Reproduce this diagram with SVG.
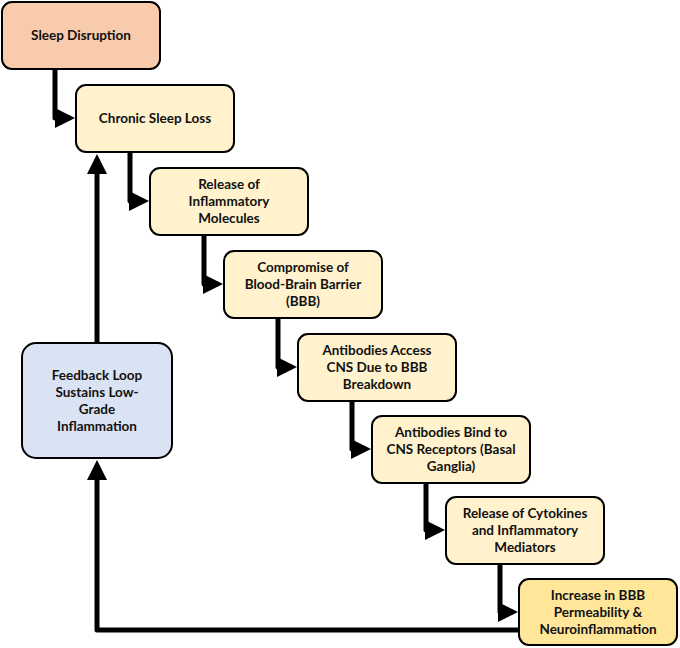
<svg xmlns="http://www.w3.org/2000/svg" width="680" height="648" viewBox="0 0 680 648">
<defs>
<marker id="ah" markerWidth="4" markerHeight="4" refX="3" refY="2" orient="auto" markerUnits="strokeWidth"><path d="M0,0 L4,2 L0,4 z" fill="#000"/></marker>
<style>
.b{stroke:#000;stroke-width:2}
.y{fill:#fff2cc}
text{font-family:Lato,"Open Sans",sans-serif;font-weight:bold;font-size:13.5px;fill:#111;text-anchor:middle}
.c{fill:none;stroke:#000;stroke-width:5;stroke-linejoin:round}
</style>
</defs>
<rect width="680" height="648" fill="#fff"/>
<g id="connectors">
<path class="c" d="M55,69 V118 H70" marker-end="url(#ah)"/>
<path class="c" d="M130,152 V201 H144" marker-end="url(#ah)"/>
<path class="c" d="M204,235 V284 H218" marker-end="url(#ah)"/>
<path class="c" d="M278,318 V367 H292" marker-end="url(#ah)"/>
<path class="c" d="M352,401 V449 H366" marker-end="url(#ah)"/>
<path class="c" d="M426,483 V530 H440" marker-end="url(#ah)"/>
<path class="c" d="M500,563 V612 H513" marker-end="url(#ah)"/>
<path class="c" d="M519,630 H97 V465" marker-end="url(#ah)"/>
<path class="c" d="M97,343 V159" marker-end="url(#ah)"/>
</g>
<g id="n1"><rect class="b" x="2" y="2" width="158" height="67" rx="10" fill="#f8cbad"/><text x="81" y="40">Sleep Disruption</text></g>
<g id="n2"><rect class="b y" x="76" y="85" width="158" height="67" rx="10"/><text x="155" y="123">Chronic Sleep Loss</text></g>
<g id="n3"><rect class="b y" x="150" y="168" width="158" height="67" rx="10"/><text x="229" y="189">Release of</text><text x="229" y="206">Inflammatory</text><text x="229" y="223">Molecules</text></g>
<g id="n4"><rect class="b y" x="224" y="251" width="158" height="67" rx="10"/><text x="303" y="272">Compromise of</text><text x="303" y="289">Blood-Brain Barrier</text><text x="303" y="306">(BBB)</text></g>
<g id="n5"><rect class="b y" x="298" y="334" width="158" height="67" rx="10"/><text x="377" y="355">Antibodies Access</text><text x="377" y="372">CNS Due to BBB</text><text x="377" y="389">Breakdown</text></g>
<g id="n6"><rect class="b y" x="372" y="416" width="158" height="67" rx="10"/><text x="451" y="437">Antibodies Bind to</text><text x="451" y="454">CNS Receptors (Basal</text><text x="451" y="471">Ganglia)</text></g>
<g id="n7"><rect class="b y" x="446" y="497" width="158" height="67" rx="10"/><text x="525" y="518">Release of Cytokines</text><text x="525" y="535">and Inflammatory</text><text x="525" y="552">Mediators</text></g>
<g id="n8"><rect class="b" x="519" y="579" width="158" height="66" rx="10" fill="#ffe699"/><text x="598" y="600">Increase in BBB</text><text x="598" y="617">Permeability &amp;</text><text x="598" y="634">Neuroinflammation</text></g>
<g id="fb"><rect class="b" x="22" y="343" width="150" height="115" rx="14" fill="#dae3f3"/><text x="97" y="380">Feedback Loop</text><text x="97" y="397">Sustains Low-</text><text x="97" y="414">Grade</text><text x="97" y="431">Inflammation</text></g>
</svg>
